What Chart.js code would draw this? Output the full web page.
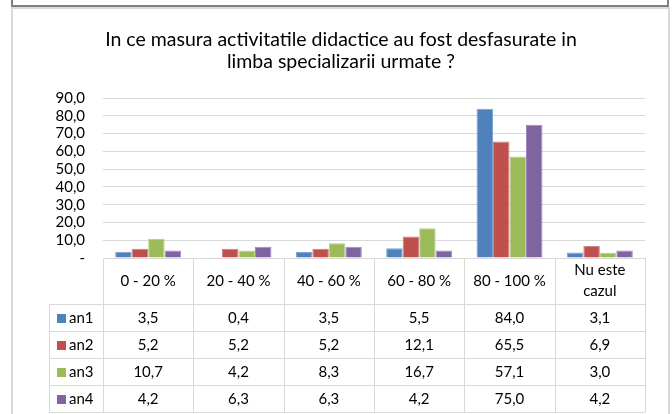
<!DOCTYPE html>
<html>
<head>
<meta charset="utf-8">
<script src="https://cdn.jsdelivr.net/npm/chart.js@4/dist/chart.umd.min.js"></script>
<style>
  html, body { margin: 0; padding: 0; background: #fff; }
  #wrap { position: relative; width: 672px; height: 414px; overflow: hidden; }
  .topbox { position: absolute; left: 11px; top: -3px; width: 658px; height: 10px;
            border: 2px solid #7f7f7f; box-sizing: border-box; }
  .frame { position: absolute; left: 11px; top: 7px; width: 659px; height: 430px;
           border: 2px solid #d9d9d9; box-sizing: border-box; }
  #myChart { position: absolute; left: 0; top: 0; }
</style>
</head>
<body>
<div id="wrap">
  <div class="topbox"></div>
  <div class="frame"></div>
  <canvas id="myChart" width="672" height="414"></canvas>
</div>
<script>
const categories = ['0 - 20 %', '20 - 40 %', '40 - 60 %', '60 - 80 %', '80 - 100 %', ['Nu este', 'cazul']];
const seriesNames = ['an1', 'an2', 'an3', 'an4'];
const an1 = [3.5, 0.4, 3.5, 5.5, 84.0, 3.1];
const an2 = [5.2, 5.2, 5.2, 12.1, 65.5, 6.9];
const an3 = [10.7, 4.2, 8.3, 16.7, 57.1, 3.0];
const an4 = [4.2, 6.3, 6.3, 4.2, 75.0, 4.2];
const colors = ['#4f81bd', '#c0504d', '#9bbb59', '#8064a2'];
const edges = ['#7ea3d3', '#d27c7a', '#b7d18a', '#a08ac0'];
const titleLines = ['In ce masura activitatile didactice au fost desfasurate in', 'limba specializarii urmate ?'];

const FONT = 'Lato';
const fmt = (v) => v.toFixed(1).replace('.', ',');

// table under the plot, drawn from the x scale
const dataTable = {
    id: 'dataTable',
    afterDraw(chart) {
        const ctx = chart.ctx;
        const area = chart.chartArea;
        const n = categories.length;
        const w = area.width / n;
        const headTop = area.bottom;
        const headBot = headTop + 46;
        const rowH = 27;
        const labelLeft = 49;
        const tableBot = headBot + rowH * seriesNames.length;

        ctx.save();
        ctx.strokeStyle = '#d9d9d9';
        ctx.lineWidth = 1;
        ctx.beginPath();
        // vertical lines
        for (let i = 0; i <= n; i++) {
            const x = Math.round(area.left + i * w) + 0.5;
            ctx.moveTo(x, headTop);
            ctx.lineTo(x, tableBot);
        }
        ctx.moveTo(labelLeft + 0.5, headBot);
        ctx.lineTo(labelLeft + 0.5, tableBot);
        // horizontal lines
        for (let r = 0; r <= seriesNames.length; r++) {
            const y = Math.round(headBot + r * rowH) + 0.5;
            ctx.moveTo(labelLeft, y);
            ctx.lineTo(area.right, y);
        }
        ctx.stroke();

        ctx.fillStyle = '#000';
        ctx.font = '15px ' + FONT;
        ctx.textAlign = 'center';
        ctx.textBaseline = 'middle';
        // header labels
        categories.forEach((c, i) => {
            const cx = area.left + (i + 0.5) * w;
            const lines = Array.isArray(c) ? c : [c];
            const mid = (headTop + headBot) / 2;
            lines.forEach((l, k) => {
                ctx.fillText(l, cx, mid + (k - (lines.length - 1) / 2) * 21);
            });
        });
        // rows
        chart.data.datasets.forEach((ds, r) => {
            const cy = headBot + (r + 0.5) * rowH;
            ctx.fillStyle = colors[r];
            ctx.fillRect(57, Math.round(cy) - 4, 9, 9);
            ctx.fillStyle = '#000';
            ctx.textAlign = 'left';
            ctx.fillText(seriesNames[r], 69, cy + 1);
            ctx.textAlign = 'center';
            ds.data.forEach((v, i) => {
                ctx.fillText(fmt(v), area.left + (i + 0.5) * w, cy + 1);
            });
        });
        ctx.restore();
    }
};

const values = [an1, an2, an3, an4];

new Chart('myChart', {
    type: 'bar',
    data: {
        labels: categories,
        datasets: seriesNames.map((name, i) => ({
            label: name,
            data: values[i],
            backgroundColor: colors[i],
            borderColor: edges[i],
            borderWidth: 1,
            categoryPercentage: 0.73,
            barPercentage: 1
        }))
    },
    options: {
        responsive: false,
        animation: false,
        layout: { padding: { top: 10, left: 37, right: 27, bottom: 156 } },
        plugins: {
            legend: { display: false },
            tooltip: { enabled: false },
            title: {
                display: true,
                text: titleLines,
                color: '#000',
                font: { family: FONT, size: 19.5, weight: 'normal', lineHeight: 1.13 },
                padding: { top: 19, bottom: 25 }
            }
        },
        scales: {
            x: { display: false },
            y: {
                min: 0,
                max: 90,
                afterFit(scale) { scale.width = 66; },
                border: { display: false },
                grid: { color: '#d9d9d9', drawTicks: false },
                ticks: {
                    stepSize: 10,
                    autoSkip: false,
                    padding: 18,
                    color: '#000',
                    font: { family: FONT, size: 15 },
                    callback: (v) => v === 0 ? '-' : fmt(v)
                }
            }
        }
    },
    plugins: [dataTable]
});
</script>
</body>
</html>
